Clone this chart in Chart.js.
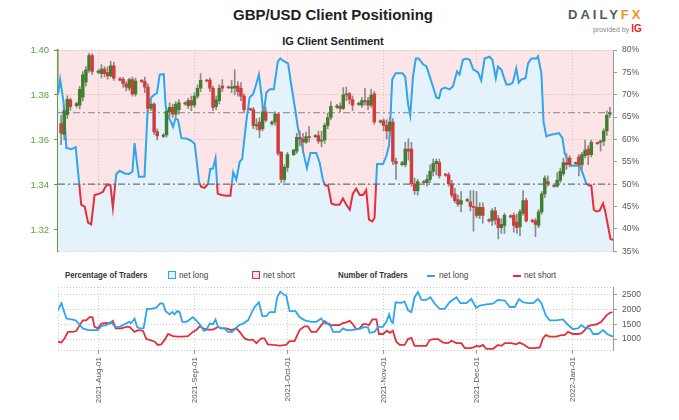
<!DOCTYPE html>
<html><head><meta charset="utf-8">
<script src="https://cdn.jsdelivr.net/npm/chart.js@4.4.0/dist/chart.umd.min.js"></script>
<style>
body{margin:0;background:#fff;width:679px;height:420px;overflow:hidden;position:relative;font-family:"Liberation Sans",Arial,sans-serif;}
canvas{position:absolute;left:0;}
#main{top:0;}
#sub{top:270px;}
.t{position:absolute;white-space:nowrap;}
.n{transform:scaleX(0.87);transform-origin:0 50%;}
</style></head><body>
<div class="t" style="left:0;width:666px;top:6px;text-align:center;font-weight:bold;font-size:15px;color:#222">GBP/USD Client Positioning</div>
<div class="t" style="left:568px;top:7px;font-size:13px;font-weight:bold;letter-spacing:3px;color:#515862">DAILY<span style="color:#f39325">FX</span></div>
<div class="t" style="left:593px;top:23px;font-size:7px;color:#888">provided by <span style="color:#e2231a;font-weight:bold;font-size:10px">IG</span></div>
<div class="t" style="left:0;width:666px;top:35px;text-align:center;font-weight:bold;font-size:11px;color:#222">IG Client Sentiment</div>

<div class="t n" style="left:65px;top:270px;font-weight:bold;font-size:9px;color:#333">Percentage of Traders</div>
<div class="t" style="left:168px;top:271px;width:6px;height:6px;border:1.5px solid #2ea5ec;background:#e4f2fb"></div>
<div class="t n" style="left:179px;top:269px;font-size:9.5px;color:#444">net long</div>
<div class="t" style="left:252px;top:271px;width:6px;height:6px;border:1.5px solid #e0303c;background:#fde4e6"></div>
<div class="t n" style="left:263px;top:269px;font-size:9.5px;color:#444">net short</div>
<div class="t n" style="left:338px;top:270px;font-weight:bold;font-size:9px;color:#333">Number of Traders</div>
<div class="t" style="left:427px;top:275px;width:8px;height:2px;background:#2ea5ec"></div>
<div class="t n" style="left:439px;top:269px;font-size:9.5px;color:#444">net long</div>
<div class="t" style="left:513px;top:275px;width:8px;height:2px;background:#e0303c"></div>
<div class="t n" style="left:524px;top:269px;font-size:9.5px;color:#444">net short</div>

<canvas id="main" width="679" height="262"></canvas>
<canvas id="sub" width="679" height="150"></canvas>
<script>
// ---- axis / tick definitions (day index: 0 = 2021-07-19) ----
const monthTicks = [13, 44, 74, 105, 135, 166];
const monthLabels = ['2021-Aug-01','2021-Sep-01','2021-Oct-01','2021-Nov-01','2021-Dec-01','2022-Jan-01'];
const priceTicks = [1.32, 1.34, 1.36, 1.38, 1.40];
const pctTicks = [35, 40, 45, 50, 55, 60, 65, 70, 75, 80];
const traderTicks = [1000, 1500, 2000, 2500];

// ---- GBP/USD daily candles ----
const candleDays = [1,2,3,4, 6,7,8,9,10,11, 13,14,15,16,17,18, 20,21,22,23,24,25, 27,28,29,30,31,32,
 34,35,36,37,38,39, 41,42,43,44,45,46, 48,49,50,51,52,53, 55,56,57,58,59,60, 62,63,64,65,66,67,
 69,70,71,72,73,74, 76,77,78,79,80,81, 83,84,85,86,87,88, 90,91,92,93,94,95, 97,98,99,100,101,102,
 104,105,106,107,108,109, 111,112,113,114,115,116, 118,119,120,121,122,123, 125,126,127,128,129,130,
 132,133,134,135,136,137, 139,140,141,142,143,144, 146,147,148,149,150,151, 153,154,155,156,157,158,
 160,161,162,163,164,165, 167,168,169,170,171,172, 174,175,176,177,178];
const opens = [1.3673,1.3625,1.3712,1.3778, 1.3753,1.3755,1.3790,1.3858,1.3910,1.3975,
 1.3900,1.3895,1.3915,1.3900,1.3885,1.3930, 1.3872,1.3870,1.3848,1.3830,1.3868,1.3805,
 1.3865,1.3860,1.3835,1.3740,1.3760,1.3637, 1.3616,1.3622,1.3725,1.3745,1.3715,1.3735,
 1.3765,1.3752,1.3775,1.3755,1.3795,1.3830, 1.3866,1.3866,1.3830,1.3748,1.3775,1.3840,
 1.3835,1.3830,1.3830,1.3840,1.3830,1.3795, 1.3738,1.3735,1.3662,1.3680,1.3650,1.3725,
 1.3672,1.3680,1.3715,1.3545,1.3425,1.3478, 1.3535,1.3550,1.3612,1.3605,1.3590,1.3615,
 1.3615,1.3620,1.3595,1.3600,1.3665,1.3700, 1.3745,1.3750,1.3740,1.3800,1.3805,1.3780,
 1.3758,1.3755,1.3770,1.3775,1.3755,1.3805, 1.3680,1.3685,1.3665,1.3640,1.3680,1.3505,
 1.3490,1.3490,1.3560,1.3560,1.3405,1.3375, 1.3415,1.3410,1.3425,1.3460,1.3495,1.3500,
 1.3448,1.3445,1.3405,1.3360,1.3335,1.3315, 1.3330,1.3325,1.3305,1.3300,1.3265,1.3300,
 1.3245,1.3240,1.3285,1.3250,1.3210,1.3220, 1.3262,1.3265,1.3235,1.3215,1.3275,1.3330,
 1.3242,1.3240,1.3220,1.3280,1.3360,1.3415, 1.3398,1.3395,1.3420,1.3450,1.3500,1.3520,
 1.3495,1.3525,1.3490,1.3530,1.3560,1.3535, 1.3588,1.3590,1.3595,1.3640,1.3715];
const highs = [1.3709,1.3745,1.3796,1.3786, 1.3768,1.3839,1.3904,1.3926,1.3985,1.3983,
 1.3912,1.3935,1.3925,1.3925,1.3950,1.3945, 1.3878,1.3878,1.3860,1.3875,1.3880,1.3875,
 1.3870,1.3880,1.3850,1.3780,1.3765,1.3650, 1.3628,1.3740,1.3765,1.3760,1.3770,1.3780,
 1.3770,1.3785,1.3795,1.3810,1.3845,1.3895, 1.3870,1.3875,1.3840,1.3795,1.3845,1.3868,
 1.3840,1.3865,1.3912,1.3860,1.3855,1.3805, 1.3742,1.3745,1.3695,1.3700,1.3750,1.3745,
 1.3685,1.3725,1.3720,1.3550,1.3490,1.3545, 1.3560,1.3630,1.3640,1.3630,1.3635,1.3660,
 1.3625,1.3640,1.3640,1.3675,1.3720,1.3770, 1.3758,1.3765,1.3833,1.3835,1.3812,1.3795,
 1.3768,1.3790,1.3830,1.3790,1.3825,1.3815, 1.3690,1.3695,1.3690,1.3700,1.3695,1.3520,
 1.3505,1.3590,1.3605,1.3590,1.3430,1.3425, 1.3420,1.3445,1.3490,1.3515,1.3515,1.3515,
 1.3452,1.3455,1.3420,1.3385,1.3355,1.3370, 1.3340,1.3375,1.3375,1.3370,1.3320,1.3320,
 1.3250,1.3295,1.3300,1.3265,1.3250,1.3275, 1.3268,1.3275,1.3270,1.3290,1.3375,1.3340,
 1.3248,1.3250,1.3290,1.3370,1.3440,1.3440, 1.3402,1.3455,1.3475,1.3520,1.3540,1.3530,
 1.3502,1.3535,1.3545,1.3600,1.3575,1.3600, 1.3592,1.3600,1.3650,1.3730,1.3745];
const lows = [1.3579,1.3600,1.3695,1.3731, 1.3745,1.3738,1.3774,1.3839,1.3900,1.3890,
 1.3895,1.3875,1.3880,1.3870,1.3880,1.3865, 1.3862,1.3835,1.3818,1.3820,1.3795,1.3795,
 1.3855,1.3810,1.3725,1.3730,1.3625,1.3600, 1.3610,1.3612,1.3705,1.3700,1.3700,1.3715,
 1.3755,1.3740,1.3730,1.3745,1.3785,1.3815, 1.3858,1.3815,1.3730,1.3735,1.3760,1.3815,
 1.3828,1.3810,1.3800,1.3795,1.3775,1.3725, 1.3730,1.3650,1.3645,1.3610,1.3640,1.3680,
 1.3665,1.3665,1.3530,1.3410,1.3412,1.3460, 1.3530,1.3540,1.3575,1.3545,1.3585,1.3590,
 1.3610,1.3585,1.3570,1.3585,1.3650,1.3690, 1.3740,1.3725,1.3735,1.3775,1.3760,1.3730,
 1.3752,1.3745,1.3755,1.3735,1.3745,1.3670, 1.3675,1.3640,1.3605,1.3620,1.3490,1.3425,
 1.3485,1.3480,1.3510,1.3395,1.3358,1.3355, 1.3405,1.3395,1.3410,1.3440,1.3445,1.3430,
 1.3438,1.3395,1.3345,1.3320,1.3305,1.3280, 1.3325,1.3285,1.3195,1.3255,1.3250,1.3230,
 1.3235,1.3220,1.3225,1.3160,1.3185,1.3185, 1.3252,1.3190,1.3185,1.3175,1.3265,1.3235,
 1.3232,1.3170,1.3210,1.3270,1.3345,1.3395, 1.3390,1.3390,1.3410,1.3440,1.3470,1.3480,
 1.3490,1.3440,1.3470,1.3520,1.3490,1.3525, 1.3580,1.3550,1.3575,1.3620,1.3700];
const closes = [1.3630,1.3731,1.3781,1.3748, 1.3762,1.3825,1.3890,1.3912,1.3975,1.3905,
 1.3906,1.3915,1.3895,1.3885,1.3930,1.3875, 1.3866,1.3850,1.3835,1.3868,1.3805,1.3862,
 1.3860,1.3835,1.3740,1.3760,1.3637,1.3618, 1.3622,1.3728,1.3745,1.3715,1.3760,1.3765,
 1.3760,1.3775,1.3755,1.3795,1.3830,1.3865, 1.3862,1.3830,1.3745,1.3778,1.3830,1.3830,
 1.3832,1.3835,1.3840,1.3815,1.3795,1.3735, 1.3735,1.3665,1.3668,1.3645,1.3725,1.3688,
 1.3680,1.3715,1.3540,1.3425,1.3478,1.3535, 1.3555,1.3612,1.3605,1.3590,1.3615,1.3610,
 1.3620,1.3595,1.3600,1.3665,1.3700,1.3750, 1.3752,1.3740,1.3800,1.3805,1.3780,1.3755,
 1.3762,1.3775,1.3775,1.3755,1.3800,1.3680, 1.3685,1.3665,1.3640,1.3680,1.3505,1.3495,
 1.3500,1.3560,1.3550,1.3405,1.3375,1.3415, 1.3410,1.3425,1.3460,1.3495,1.3505,1.3440,
 1.3442,1.3405,1.3355,1.3330,1.3315,1.3330, 1.3335,1.3305,1.3300,1.3265,1.3300,1.3265,
 1.3240,1.3285,1.3245,1.3210,1.3225,1.3265, 1.3258,1.3220,1.3210,1.3280,1.3330,1.3240,
 1.3238,1.3225,1.3280,1.3360,1.3430,1.3405, 1.3394,1.3420,1.3460,1.3500,1.3490,1.3490,
 1.3498,1.3490,1.3535,1.3555,1.3535,1.3590, 1.3584,1.3595,1.3640,1.3710,1.3722];

// ---- IG client sentiment: % of traders net long ----
const sentDays = [0,0.7,1.8,2.7,4.3,5.7,7.5,8.6,9.7,10.7,11.8,13.4,14.5,15.3,15.9,16.9,17.7,18.8,19.9,21.5,
 22.9,24.0,24.7,25.5,26.1,27.9,29.0,30.1,31.2,31.9,32.8,34.1,34.7,35.3,36.2,37.1,37.9,38.7,39.8,41.4,
 43.0,44.1,45.5,46.2,47.3,48.4,49.1,50.0,50.8,51.5,52.7,54.3,55.6,56.5,57.5,58.6,59.4,60.7,61.8,62.9,
 63.9,64.8,65.6,66.3,67.2,68.3,69.6,70.9,71.7,72.6,74.2,75.3,76.3,77.4,78.5,79.6,80.3,81.4,83.3,84.4,
 85.5,86.3,87.1,88.2,89.2,90.8,91.9,93.0,94.1,95.1,96.2,97.3,98.4,99.4,100.3,101.4,102.1,102.9,104.8,105.9,
 106.8,107.8,108.9,111.1,112.0,112.9,113.6,114.5,115.4,116.3,117.9,118.8,119.9,120.9,122.0,122.9,123.6,124.7,126.3,127.4,
 128.7,129.5,130.6,131.7,132.8,133.9,135.5,136.5,137.6,139.2,140.1,141.2,141.9,143.0,143.7,144.6,145.7,146.7,147.8,148.6,
 149.4,150.8,151.6,152.7,154.3,154.8,155.9,156.6,157.5,158.6,160.2,161.6,162.7,163.4,164.5,165.6,168.3,169.3,170.4,171.3,
 172.0,172.8,173.6,174.7,175.8,176.5,177.4,178.2,179.0];
const sentLong = [70.0,73.4,68.3,58.1,57.8,58.3,45.4,45.0,41.4,41.0,47.6,47.9,48.3,49.4,49.9,49.8,44.7,52.3,53.0,52.4,
 52.3,52.8,59.2,54.5,51.6,51.7,67.9,69.4,70.1,70.3,74.5,74.6,67.6,65.4,64.3,62.8,64.7,64.4,60.3,60.2,
 59.7,59.0,50.5,49.4,49.2,50.1,53.4,53.5,55.8,47.9,47.6,47.4,47.4,52.7,51.0,55.0,55.6,63.9,69.4,70.1,
 72.3,74.5,70.1,65.4,70.5,71.2,71.2,77.4,78.1,77.6,77.0,71.9,67.6,62.5,59.2,55.6,53.6,57.0,57.0,54.8,
 50.8,49.7,49.7,45.7,45.4,45.4,46.8,45.4,44.3,47.9,49.0,47.6,47.6,48.7,42.1,41.7,42.5,54.5,54.5,56.3,
 58.8,73.4,74.8,74.8,74.0,67.9,65.4,74.1,78.1,78.1,76.7,76.4,74.1,71.9,69.4,69.2,71.2,71.6,71.2,71.9,
 75.2,74.5,77.8,78.1,77.8,75.7,75.0,73.2,78.1,78.5,77.8,73.7,76.3,75.6,74.1,72.3,72.3,72.7,75.9,72.7,
 73.4,73.7,77.0,78.1,78.1,78.6,74.8,63.9,60.7,61.0,61.2,61.4,60.3,57.0,55.2,54.1,54.1,52.3,50.1,49.7,
 49.7,44.3,43.9,44.1,45.7,43.9,40.6,37.7,37.6];

// ---- Number of traders ----
const longDays = [0,1.1,2.7,4.3,5.7,6.8,8.0,9.7,11.3,12.9,14.0,15.6,17.2,18.3,19.9,21.5,22.9,23.6,24.7,25.5,
 26.3,27.6,28.7,30.1,31.7,33.0,33.9,34.7,36.0,36.9,37.6,38.4,39.2,40.1,41.4,42.5,43.5,44.6,45.9,47.0,
 47.8,48.9,50.0,50.8,51.6,52.7,53.7,54.8,56.2,57.3,58.4,59.7,61.3,62.3,63.4,64.8,65.9,67.2,68.3,69.9,
 70.7,71.7,72.8,73.6,74.7,76.6,77.9,79.6,81.7,83.3,84.9,86.0,87.6,88.7,90.8,91.9,93.0,94.6,96.2,97.8,
 98.9,100.0,100.5,102.1,103.2,104.8,105.9,106.8,107.5,108.0,108.9,110.7,111.8,112.9,114.0,115.0,116.1,117.2,118.8,120.1,
 121.5,123.1,124.7,126.3,128.5,129.8,131.7,133.3,134.9,136.0,138.2,140.3,141.9,144.1,145.7,147.3,148.7,150.0,151.6,153.2,
 154.8,155.9,157.3,158.6,160.7,162.9,163.9,165.0,166.1,167.7,168.8,170.2,171.5,172.6,174.2,175.8,177.1,178.5,179.0];
const longCount = [1970,2210,1690,1660,1630,1500,1360,1300,1300,1300,1440,1470,1580,1410,1410,1500,1580,1540,1690,1410,
 1360,1360,2020,2020,2060,2210,2190,1940,1830,1910,1830,1940,1910,1580,1580,1660,1740,1630,1470,1280,
 1300,1520,1500,1660,1410,1360,1360,1240,1240,1360,1470,1520,1630,1860,2080,2240,1770,1770,1910,1910,
 2410,2600,2500,2470,1940,1940,1740,1630,1580,1580,1690,1520,1520,1240,1240,1360,1300,1300,1330,1360,
 1410,1390,1210,1240,1410,1410,1580,1830,1580,1540,2240,2220,2260,1970,1910,2410,2580,2320,2320,2410,
 2190,2020,2020,2240,2410,2210,2210,2350,2050,2130,2170,2190,2320,2300,2080,2080,2350,2240,2210,2210,
 2350,2210,1800,1630,1630,1660,1540,1430,1330,1360,1470,1360,1360,1170,1170,1300,1170,1100,1100];
const shortDays = [0,1.1,2.1,3.2,4.8,5.9,7.0,8.0,9.1,10.2,11.1,11.8,12.9,14.0,15.6,16.9,17.7,18.6,20.4,22.0,
 23.1,24.7,25.8,27.4,28.5,29.5,31.2,32.2,33.3,34.4,35.5,37.1,38.7,40.3,41.9,43.5,44.6,45.7,46.8,48.4,
 50.0,51.6,52.7,54.3,55.9,57.5,58.6,60.2,61.3,62.9,64.0,65.0,65.6,66.6,67.7,69.3,71.5,73.6,74.7,76.3,
 77.9,79.5,80.6,81.7,83.3,84.9,86.0,87.6,89.2,90.8,91.9,93.0,94.1,95.1,96.2,97.3,98.4,99.4,100.3,101.4,
 102.7,103.5,104.8,106.1,107.0,108.0,109.1,110.2,111.8,112.9,114.0,115.0,116.6,118.8,119.9,121.2,122.6,124.2,125.8,126.9,
 128.5,130.1,131.2,132.8,134.1,134.9,136.0,137.1,138.1,140.3,141.9,143.0,144.1,146.2,147.8,148.9,150.5,151.9,153.7,155.4,
 156.4,157.3,158.6,160.7,162.3,163.4,164.5,166.1,167.7,168.8,169.9,170.9,172.0,173.6,175.2,176.9,177.9,178.8];
const shortCount = [910,880,1020,1240,1240,1270,1470,1630,1630,1740,1740,1410,1360,1520,1540,1520,1610,1360,1360,1410,
 1410,1240,1300,1280,1000,970,910,800,820,970,1170,1100,1080,1080,1100,1240,1300,1430,1360,1320,
 1320,1410,1360,1360,1300,1360,1240,1020,970,970,860,970,1020,1020,820,800,780,800,930,930,
 1300,1430,1430,1240,1240,1470,1600,1470,1470,1470,1540,1560,1610,1500,1330,1360,1500,1500,1470,1660,
 1660,1170,1170,1280,1210,1280,910,800,800,1000,1040,770,770,770,970,1000,1000,880,860,940,
 860,860,690,690,720,770,750,800,670,670,800,770,860,860,820,880,800,690,690,720,
 1020,1130,1080,1080,1130,1130,1240,1170,1170,1190,1300,1430,1470,1490,1580,1800,1880,1910];

// ---- colours ----
const BLUE = '#2ea5ec', RED = '#e0303c', GREEN_C = '#3f7f2e', RED_C = '#d33a3a';
const AXIS_GREEN = '#5f9f3f';
const REG = '"Liberation Sans",Arial,sans-serif';

const bgPlugin = {id:'bgPink', beforeDraw(chart){
  const {ctx, chartArea:a} = chart; ctx.save(); ctx.fillStyle = '#fde4e6';
  ctx.fillRect(a.left, a.top, a.right - a.left, a.bottom - a.top); ctx.restore(); }};

function splitColor(ctx){
  const ch = ctx.chart; const a = ch.chartArea;
  if (!a || !ch.scales.yR) return BLUE;
  const y50 = ch.scales.yR.getPixelForValue(50);
  const g = ch.ctx.createLinearGradient(0, a.top, 0, a.bottom);
  const f = Math.min(1, Math.max(0, (y50 - a.top) / (a.bottom - a.top)));
  g.addColorStop(0, BLUE); g.addColorStop(f, BLUE); g.addColorStop(f, RED); g.addColorStop(1, RED);
  return g;
}
const isUp = i => closes[i] >= opens[i];
const lastClose = closes[closes.length - 1];

new Chart(document.getElementById('main'), {
  type: 'bar',
  plugins: [bgPlugin],
  data: { datasets: [
    { type:'line', label:'sentiment', yAxisID:'yR', order:4,
      data: sentDays.map((d,i)=>({x:d, y:sentLong[i]})),
      borderColor: splitColor, borderWidth: 2, pointRadius: 0, tension: 0,
      fill: 'start', backgroundColor: '#e4f2fb' },
    { type:'line', label:'50', yAxisID:'yR', order:3,
      data: [{x:0,y:50},{x:179,y:50}], borderColor:'#6f6f6f', borderWidth:1.2,
      borderDash:[7,3,2,3], pointRadius:0, fill:false },
    { type:'line', label:'last', yAxisID:'y', order:3,
      data: [{x:0,y:lastClose},{x:179,y:lastClose}], borderColor:'#9a9a9a', borderWidth:1.2,
      borderDash:[7,3,2,3], pointRadius:0, fill:false },
    { type:'bar', label:'wick', yAxisID:'y', order:2, grouped:false, barThickness:1,
      data: candleDays.map((d,i)=>({x:d, y:[lows[i], highs[i]]})),
      backgroundColor:'#8a8a8a', borderWidth:0 },
    { type:'bar', label:'body', yAxisID:'y', order:1, grouped:false, barThickness:2.8, minBarLength:1,
      data: candleDays.map((d,i)=>({x:d, y:[Math.min(opens[i],closes[i]), Math.max(opens[i],closes[i])]})),
      backgroundColor: candleDays.map((d,i)=> isUp(i) ? GREEN_C : RED_C), borderWidth:0 }
  ]},
  options: {
    responsive:false, animation:false,
    layout:{padding:{top:50, bottom:6, left:0, right:0}},
    plugins:{legend:{display:false}, tooltip:{enabled:false}},
    scales:{
      x:{type:'linear', min:0, max:179, offset:false, z:1,
        afterBuildTicks: s => { s.ticks = monthTicks.concat([179]).map(v=>({value:v})); },
        afterFit: s => { s.height = 0; },
        ticks:{display:false, autoSkip:false},
        grid:{color:'#c9c9c9', drawTicks:false, offset:false},
        border:{display:false, dash:[1,2]}},
      y:{position:'left', min:1.3105, max:1.40, z:1,
        afterBuildTicks: s => { s.ticks = [1.3105].concat(priceTicks).map(v=>({value:v})); },
        afterFit: s => { s.width = 58; },
        ticks:{autoSkip:false, color:AXIS_GREEN, font:{size:9.5, family:REG}, padding:5,
          callback: v => priceTicks.some(p=>Math.abs(p-v)<1e-6) ? v.toFixed(2) : ''},
        grid:{color:'#b7c6a8', tickLength:4,
          tickColor: c => (c.tick && c.tick.value < 1.315) ? 'rgba(0,0,0,0)' : AXIS_GREEN},
        border:{display:true, color:AXIS_GREEN, width:1.5, dash:[1,2]}},
      yR:{position:'right', min:35, max:80,
        afterBuildTicks: s => { s.ticks = pctTicks.map(v=>({value:v})); },
        afterFit: s => { s.width = 66; },
        ticks:{autoSkip:false, color:'#555', font:{size:8.5, family:REG}, padding:5, callback: v => v + '%'},
        grid:{drawOnChartArea:false, tickLength:4, color:'#9a9a9a'},
        border:{display:true, color:'#9a9a9a'}}
    }
  }
});

new Chart(document.getElementById('sub'), {
  type:'line',
  data:{ datasets:[
    { label:'net long', data: longDays.map((d,i)=>({x:d, y:longCount[i]})),
      borderColor: BLUE, borderWidth:1.8, pointRadius:0, tension:0, fill:false },
    { label:'net short', data: shortDays.map((d,i)=>({x:d, y:shortCount[i]})),
      borderColor: RED, borderWidth:1.8, pointRadius:0, tension:0, fill:false }
  ]},
  options:{
    responsive:false, animation:false,
    layout:{padding:{top:17, bottom:0, left:58, right:0}},
    plugins:{legend:{display:false}, tooltip:{enabled:false}},
    scales:{
      x:{type:'linear', min:0, max:179, offset:false,
        afterBuildTicks: s => { s.ticks = [0].concat(monthTicks, [179]).map(v=>({value:v})); },
        afterFit: s => { s.height = 70; },
        ticks:{autoSkip:false, minRotation:90, maxRotation:90, color:'#555', padding:3,
          font:{size:8, family:REG},
          callback: v => { const i = monthTicks.indexOf(v); return i >= 0 ? monthLabels[i] : ''; }},
        grid:{color:'#cbcbcb', tickLength:4,
          tickColor: c => (c.tick && monthTicks.includes(c.tick.value)) ? '#999' : 'rgba(0,0,0,0)'},
        border:{display:false, dash:[1,2]}},
      y:{position:'right', min:630, max:2755,
        afterBuildTicks: s => { s.ticks = [630].concat(traderTicks, [2755]).map(v=>({value:v})); },
        afterFit: s => { s.width = 66; },
        ticks:{autoSkip:false, color:'#555', font:{size:8.5, family:REG}, padding:5,
          callback: v => traderTicks.includes(v) ? String(v) : ''},
        grid:{color:'#cbcbcb', tickLength:4,
          tickColor: c => (c.tick && traderTicks.includes(c.tick.value)) ? '#999' : 'rgba(0,0,0,0)'},
        border:{display:true, color:'#9a9a9a', dash:[1,2]}}
    }
  }
});
</script>
</body></html>
